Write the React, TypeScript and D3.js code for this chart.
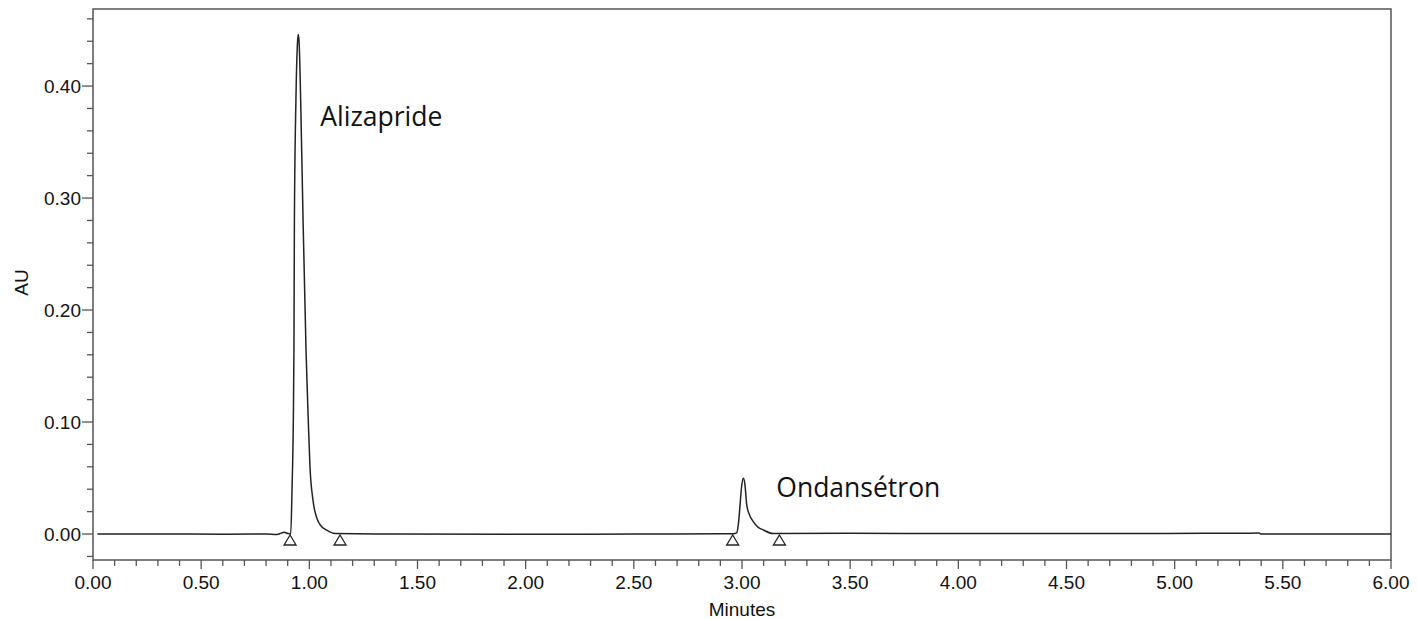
import React from "react";
import * as d3 from "d3";

// chromatogram, [minutes, AU]
const leadIn: [number, number][] = [
  [0.02, 0.0], [0.3, 0.0001], [0.6, -0.0001], [0.8, 0.0], [0.85, -0.0004],
  [0.87, 0.0008], [0.885, 0.0015], [0.9, 0.0004],
];
const alizapride: [number, number][] = [
  [0.914, 0.0], [0.92, 0.04], [0.926, 0.102], [0.929, 0.17], [0.931, 0.28],
  [0.938, 0.387], [0.945, 0.438], [0.949, 0.446], [0.953, 0.438], [0.96, 0.387],
  [0.971, 0.28], [0.985, 0.162], [0.995, 0.102], [1.003, 0.06], [1.017, 0.03],
  [1.035, 0.014], [1.055, 0.007], [1.08, 0.0035], [1.119, 0.0005],
];
const midBaseline: [number, number][] = [
  [1.4, 0.0], [2.0, -0.0002], [2.5, 0.0], [2.9, 0.0002], [2.96, 0.0003],
];
const ondansetron: [number, number][] = [
  [2.975, 0.001], [2.985, 0.012], [2.991, 0.026], [2.998, 0.042], [3.006, 0.0497],
  [3.013, 0.045], [3.022, 0.026], [3.035, 0.017], [3.052, 0.011], [3.075, 0.006],
  [3.099, 0.0036], [3.143, 0.0005],
];
const tailBaseline: [number, number][] = [
  [3.5, 0.0006], [4.0, 0.0005], [4.9, 0.0004], [5.39, 0.0008], [5.4, 0.0], [6.0, 0.0],
];

// integration start/end markers (minutes)
const markerTimes = [0.911, 1.142, 2.957, 3.173];

const peakNames = ["Alizapride", "Ondansétron"];
const peakApex: [number, number][] = [[0.949, 0.446], [3.006, 0.0497]];

const xMajorTicks = [0, 0.5, 1, 1.5, 2, 2.5, 3, 3.5, 4, 4.5, 5, 5.5, 6];
const yMajorTicks = [0, 0.1, 0.2, 0.3, 0.4];

const W = 1418;
const H = 619;
const margin = { left: 93, right: 27, top: 9, bottom: 59 };
// label offsets from each apex, px
const labelOffset = [[22, 91], [33, 19]];

export default function App() {
  const x = d3.scaleLinear().domain([0, 6]).range([margin.left, W - margin.right]);
  const y = d3.scaleLinear().domain([-0.0232, 0.4688]).range([H - margin.bottom, margin.top]);

  const trace = [...leadIn, ...alizapride, ...midBaseline, ...ondansetron, ...tailBaseline];
  const line = d3
    .line<[number, number]>()
    .x((d) => x(d[0]))
    .y((d) => y(d[1]))
    .curve(d3.curveMonotoneX);

  const xMinor = d3.range(0, 61).map((i) => i / 10);
  const yMinor = d3.range(-1, 24).map((i) => i * 0.02);

  const axisColor = "#555";
  const tickFont = "'Liberation Sans', Arial, sans-serif";
  const x0 = margin.left;
  const y0 = H - margin.bottom;

  return (
    <div style={{ position: "absolute", left: 0, top: 0 }}>
      <svg width={W} height={H} style={{ display: "block", background: "#fff" }}>
        {/* frame */}
        <rect
          x={x0}
          y={margin.top}
          width={W - margin.right - margin.left}
          height={y0 - margin.top}
          fill="none"
          stroke={axisColor}
          strokeWidth={1.5}
        />

        {/* x ticks */}
        {xMinor.map((t, i) => {
          const major = i % 5 === 0;
          return (
            <line key={`xm-${i}`} x1={x(t)} x2={x(t)} y1={y0} y2={y0 + (major ? 9 : 6)}
              stroke={axisColor} strokeWidth={1.3} />
          );
        })}
        {xMajorTicks.map((t) => (
          <text key={`xl-${t}`} x={x(t)} y={y0 + 29} textAnchor="middle" fontSize={19}
            fontFamily={tickFont} fill="#111">
            {t.toFixed(2)}
          </text>
        ))}

        {/* y ticks */}
        {yMinor.map((v, i) => {
          const major = Math.abs(Math.round(v * 10) - v * 10) < 1e-6;
          return (
            <line key={`ym-${i}`} x1={x0 - (major ? 11 : 6)} x2={x0} y1={y(v)} y2={y(v)}
              stroke={axisColor} strokeWidth={1.3} />
          );
        })}
        {yMajorTicks.map((v) => (
          <text key={`yl-${v}`} x={x0 - 12} y={y(v)} dy="0.35em" textAnchor="end" fontSize={19}
            fontFamily={tickFont} fill="#111">
            {v.toFixed(2)}
          </text>
        ))}

        {/* axis titles */}
        <text x={(x0 + W - margin.right) / 2} y={616} textAnchor="middle" fontSize={19}
          fontFamily={tickFont} fill="#111">
          Minutes
        </text>
        <text transform={`translate(28, ${(margin.top + y0) / 2 - 2}) rotate(-90)`} textAnchor="middle"
          fontSize={19} fontFamily={tickFont} fill="#111">
          AU
        </text>

        {/* trace */}
        <path d={line(trace) ?? ""} fill="none" stroke="#222" strokeWidth={1.5} strokeLinejoin="round" />

        {/* integration markers */}
        {markerTimes.map((t, i) => {
          const cx = x(t);
          const cy = y(0);
          return (
            <path key={`mk-${i}`}
              d={`M${cx},${cy + 1} L${cx + 6},${cy + 11} L${cx - 6},${cy + 11} Z`}
              fill="#fff" stroke="#222" strokeWidth={1.3} />
          );
        })}

        {/* peak labels */}
        {peakNames.map((name, i) => (
          <text key={name} x={x(peakApex[i][0]) + labelOffset[i][0]} y={y(peakApex[i][1]) + labelOffset[i][1]}
            fontSize={26.5} fontFamily="'Open Sans', sans-serif" fill="#111">
            {name}
          </text>
        ))}
      </svg>
    </div>
  );
}
